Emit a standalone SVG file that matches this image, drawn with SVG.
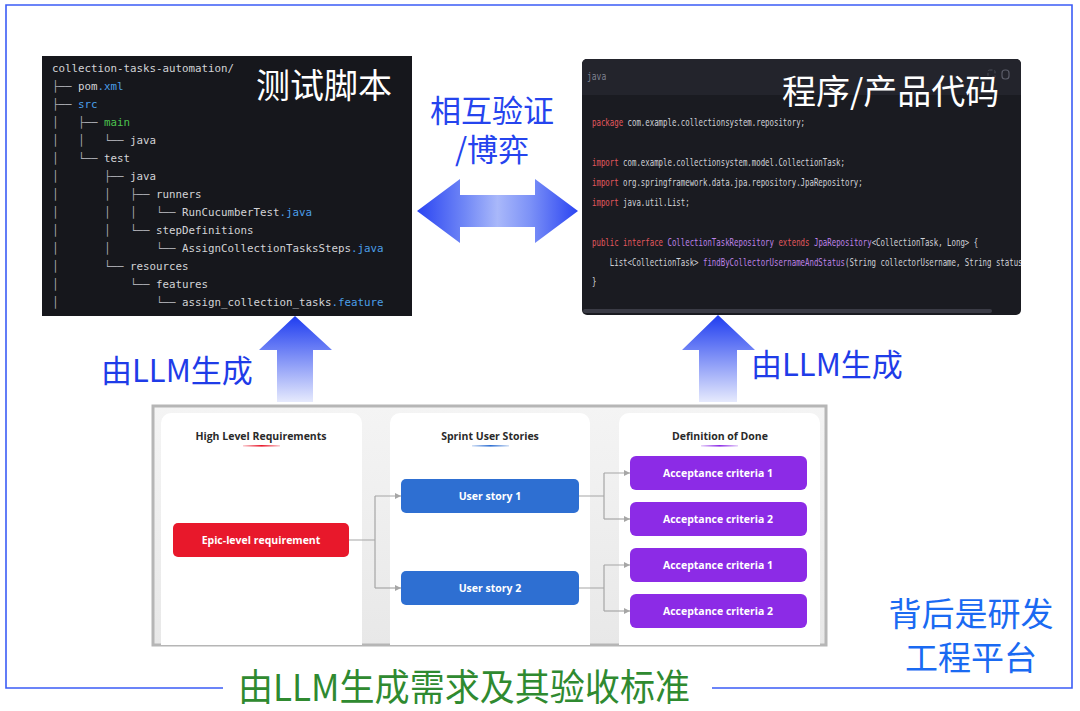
<svg xmlns="http://www.w3.org/2000/svg" width="1080" height="711" viewBox="0 0 1080 711">
<defs>
<style>
.cjk{font-family:"Noto Sans CJK SC","Noto Sans",sans-serif;}
.tree{font-family:"DejaVu Sans Mono","Liberation Mono",monospace;font-size:10.8px;fill:#d2d3d6;white-space:pre;}
.tl{fill:#a9aab0;}
.tb{fill:#4b9fe8;}
.tg{fill:#4cc34f;}
.code{font-family:"DejaVu Sans Mono","Liberation Mono",monospace;font-size:10.6px;fill:#d0d2d8;white-space:pre;}
.kw{fill:#e3585e;}
.cl{fill:#bd82e6;}
.ptitle{font-family:"Open Sans","Liberation Sans",sans-serif;font-size:10.5px;font-weight:700;fill:#2a2a2a;text-anchor:middle;}
.btxt{font-family:"Open Sans","Liberation Sans",sans-serif;font-size:10.5px;font-weight:700;fill:#ffffff;text-anchor:middle;}
.conn{fill:none;stroke:#a6a6a6;stroke-width:1.2;}
.card{fill:#ffffff;}
.ac{fill:#8c2be6;}
.us{fill:#2e6fd2;}
</style>
<linearGradient id="dblGrad" x1="0" y1="0" x2="1" y2="0">
<stop offset="0" stop-color="#2a44f2"/>
<stop offset="0.3" stop-color="#7188f6"/>
<stop offset="0.5" stop-color="#a9b8fa"/>
<stop offset="0.7" stop-color="#7d92f7"/>
<stop offset="1" stop-color="#2a44f2"/>
</linearGradient>
<linearGradient id="upGrad" x1="0" y1="0" x2="0" y2="1">
<stop offset="0" stop-color="#1e3cf0"/>
<stop offset="1" stop-color="#e6eafd"/>
</linearGradient>
<linearGradient id="bgGrad" x1="0" y1="0" x2="0" y2="1">
<stop offset="0" stop-color="#f4f4f4"/>
<stop offset="1" stop-color="#e8e8e8"/>
</linearGradient>
<linearGradient id="ulRed" x1="0" y1="0" x2="1" y2="0">
<stop offset="0" stop-color="#e8182b" stop-opacity="0.2"/>
<stop offset="0.5" stop-color="#e8182b"/>
<stop offset="1" stop-color="#e8182b" stop-opacity="0.2"/>
</linearGradient>
<linearGradient id="ulBlue" x1="0" y1="0" x2="1" y2="0">
<stop offset="0" stop-color="#2e6fd2" stop-opacity="0.2"/>
<stop offset="0.5" stop-color="#2e6fd2"/>
<stop offset="1" stop-color="#2e6fd2" stop-opacity="0.2"/>
</linearGradient>
<linearGradient id="ulPurple" x1="0" y1="0" x2="1" y2="0">
<stop offset="0" stop-color="#8c2be6" stop-opacity="0.2"/>
<stop offset="0.5" stop-color="#8c2be6"/>
<stop offset="1" stop-color="#8c2be6" stop-opacity="0.2"/>
</linearGradient>
<marker id="arr" viewBox="0 0 6 6" refX="6" refY="3" markerWidth="6" markerHeight="6" markerUnits="userSpaceOnUse" orient="auto">
<path d="M0,0 L6,3 L0,6 z" fill="#a6a6a6"/>
</marker>
<clipPath id="codeClip"><rect x="582" y="59" width="439" height="256" rx="5"/></clipPath>
</defs>

<rect x="0" y="0" width="1080" height="711" fill="#ffffff"/>

<!-- outer frame -->
<g id="frame">
<path d="M223,688 H6 V5 H1072 V688 H712" fill="none" stroke="#3b5cf6" stroke-width="1.6"/>
</g>

<!-- test script panel -->
<g id="test-scripts">
<rect x="42" y="56" width="370" height="260" fill="#16171c"/>
<text class="tree" xml:space="preserve" x="52" y="72">collection-tasks-automation/</text>
<text class="tree" xml:space="preserve" x="52" y="90"><tspan class="tl">├── </tspan>pom<tspan class="tb">.xml</tspan></text>
<text class="tree" xml:space="preserve" x="52" y="108"><tspan class="tl">├── </tspan><tspan class="tb">src</tspan></text>
<text class="tree" xml:space="preserve" x="52" y="126"><tspan class="tl">│   ├── </tspan><tspan class="tg">main</tspan></text>
<text class="tree" xml:space="preserve" x="52" y="144"><tspan class="tl">│   │   └── </tspan>java</text>
<text class="tree" xml:space="preserve" x="52" y="162"><tspan class="tl">│   └── </tspan>test</text>
<text class="tree" xml:space="preserve" x="52" y="180"><tspan class="tl">│       ├── </tspan>java</text>
<text class="tree" xml:space="preserve" x="52" y="198"><tspan class="tl">│       │   ├── </tspan>runners</text>
<text class="tree" xml:space="preserve" x="52" y="216"><tspan class="tl">│       │   │   └── </tspan>RunCucumberTest<tspan class="tb">.java</tspan></text>
<text class="tree" xml:space="preserve" x="52" y="234"><tspan class="tl">│       │   └── </tspan>stepDefinitions</text>
<text class="tree" xml:space="preserve" x="52" y="252"><tspan class="tl">│       │       └── </tspan>AssignCollectionTasksSteps<tspan class="tb">.java</tspan></text>
<text class="tree" xml:space="preserve" x="52" y="270"><tspan class="tl">│       └── </tspan>resources</text>
<text class="tree" xml:space="preserve" x="52" y="288"><tspan class="tl">│           └── </tspan>features</text>
<text class="tree" xml:space="preserve" x="52" y="306"><tspan class="tl">│               └── </tspan>assign_collection_tasks<tspan class="tb">.feature</tspan></text>
<text class="cjk" x="256" y="98" font-size="34" fill="#ffffff">测试脚本</text>
</g>

<!-- product code panel -->
<g id="product-code">
<rect x="582" y="59" width="439" height="256" rx="5" fill="#1a1b21"/>
<g clip-path="url(#codeClip)">
<rect x="582" y="59" width="439" height="36" fill="#23242c"/>
<rect x="583" y="309" width="409" height="4" rx="2" fill="#3a3b45"/>
<text x="587" y="80" font-family="DejaVu Sans Mono,monospace" font-size="10" fill="#7f8291" transform="translate(587,0) scale(0.8,1) translate(-587,0)">java</text>
<rect x="988" y="70" width="7" height="8" rx="1.5" fill="none" stroke="#4a4c57" stroke-width="1" stroke-dasharray="3 2"/>
<rect x="1002" y="70" width="7" height="9" rx="3" fill="none" stroke="#5a5c68" stroke-width="1.2"/>
<g transform="translate(592,0) scale(0.696,1)">
<text class="code" xml:space="preserve" x="0" y="126"><tspan class="kw">package</tspan> com.example.collectionsystem.repository;</text>
<text class="code" xml:space="preserve" x="0" y="166"><tspan class="kw">import</tspan> com.example.collectionsystem.model.CollectionTask;</text>
<text class="code" xml:space="preserve" x="0" y="186"><tspan class="kw">import</tspan> org.springframework.data.jpa.repository.JpaRepository;</text>
<text class="code" xml:space="preserve" x="0" y="206"><tspan class="kw">import</tspan> java.util.List;</text>
<text class="code" xml:space="preserve" x="0" y="246"><tspan class="kw">public interface</tspan> <tspan class="cl">CollectionTaskRepository</tspan> <tspan class="kw">extends</tspan> <tspan class="cl">JpaRepository</tspan>&lt;CollectionTask, Long&gt; {</text>
<text class="code" xml:space="preserve" x="0" y="266">    List&lt;CollectionTask&gt; <tspan class="cl">findByCollectorUsernameAndStatus</tspan>(String collectorUsername, String status);</text>
<text class="code" xml:space="preserve" x="0" y="285">}</text>
</g>
</g>
<text class="cjk" x="782" y="104" font-size="34" fill="#ffffff">程序/产品代码</text>
</g>

<!-- mutual verification -->
<g id="mutual-verification">
<text class="cjk" x="492" y="122" font-size="31" fill="#2544ee" text-anchor="middle">相互验证</text>
<text class="cjk" x="492" y="161" font-size="31" fill="#2544ee" text-anchor="middle">/博弈</text>
<polygon points="417,211 460,179 460,195 535,195 535,179 578,211 535,243 535,227 460,227 460,243" fill="url(#dblGrad)"/>
</g>

<!-- LLM generation arrows -->
<g id="llm-left">
<polygon points="295,316 332,350 313,350 313,402 277,402 277,350 259,350" fill="url(#upGrad)"/>
<text class="cjk" x="101" y="382" font-size="31" fill="#1f3ce8">由LLM生成</text>
</g>
<g id="llm-right">
<polygon points="718,315 755,350 737,350 737,402 699,402 699,350 682,350" fill="url(#upGrad)"/>
<text class="cjk" x="751" y="376" font-size="31" fill="#1f3ce8">由LLM生成</text>
</g>

<!-- requirements panel -->
<g id="requirements-panel">
<rect x="153" y="406" width="673" height="239" fill="url(#bgGrad)" stroke="#b6b6b6" stroke-width="3"/>
<path d="M161,645 V423 a10,10 0 0 1 10,-10 H352 a10,10 0 0 1 10,10 V645 z" class="card"/>
<path d="M390,645 V423 a10,10 0 0 1 10,-10 H580 a10,10 0 0 1 10,10 V645 z" class="card"/>
<path d="M619,645 V423 a10,10 0 0 1 10,-10 H810 a10,10 0 0 1 10,10 V645 z" class="card"/>
<text class="ptitle" x="261" y="440">High Level Requirements</text>
<rect x="243" y="445" width="37" height="1.6" fill="url(#ulRed)"/>
<text class="ptitle" x="490" y="440">Sprint User Stories</text>
<rect x="472" y="445" width="37" height="1.6" fill="url(#ulBlue)"/>
<text class="ptitle" x="720" y="440">Definition of Done</text>
<rect x="701" y="445" width="37" height="1.6" fill="url(#ulPurple)"/>
</g>

<g id="connectors">
<path class="conn" d="M349,540 H375 M375,496 V588 M375,496 H401" marker-end="url(#arr)"/>
<path class="conn" d="M375,588 H401" marker-end="url(#arr)"/>
<path class="conn" d="M579,496 H604 M604,473 V519 M604,473 H630" marker-end="url(#arr)"/>
<path class="conn" d="M604,519 H630" marker-end="url(#arr)"/>
<path class="conn" d="M579,588 H604 M604,565 V611 M604,565 H630" marker-end="url(#arr)"/>
<path class="conn" d="M604,611 H630" marker-end="url(#arr)"/>
</g>

<g id="epic">
<rect x="173" y="523" width="176" height="34" rx="5" fill="#e8182b"/>
<text class="btxt" x="261" y="544">Epic-level requirement</text>
</g>
<g id="story1">
<rect x="401" y="479" width="178" height="34" rx="5" class="us"/>
<text class="btxt" x="490" y="500">User story 1</text>
</g>
<g id="story2">
<rect x="401" y="571" width="178" height="34" rx="5" class="us"/>
<text class="btxt" x="490" y="592">User story 2</text>
</g>
<g id="ac1a">
<rect x="630" y="456" width="177" height="34" rx="6" class="ac"/>
<text class="btxt" x="718" y="477">Acceptance criteria 1</text>
</g>
<g id="ac2a">
<rect x="630" y="502" width="177" height="34" rx="6" class="ac"/>
<text class="btxt" x="718" y="523">Acceptance criteria 2</text>
</g>
<g id="ac1b">
<rect x="630" y="548" width="177" height="34" rx="6" class="ac"/>
<text class="btxt" x="718" y="569">Acceptance criteria 1</text>
</g>
<g id="ac2b">
<rect x="630" y="594" width="177" height="34" rx="6" class="ac"/>
<text class="btxt" x="718" y="615">Acceptance criteria 2</text>
</g>

<!-- platform label -->
<g id="platform">
<text class="cjk" x="971" y="626" font-size="33" fill="#1a6af2" text-anchor="middle">背后是研发</text>
<text class="cjk" x="971" y="670" font-size="33" fill="#1a6af2" text-anchor="middle">工程平台</text>
</g>

<!-- bottom caption -->
<g id="caption">
<text class="cjk" x="238" y="701" font-size="37" fill="#2f8a30" textLength="452" lengthAdjust="spacingAndGlyphs">由LLM生成需求及其验收标准</text>
</g>
</svg>
